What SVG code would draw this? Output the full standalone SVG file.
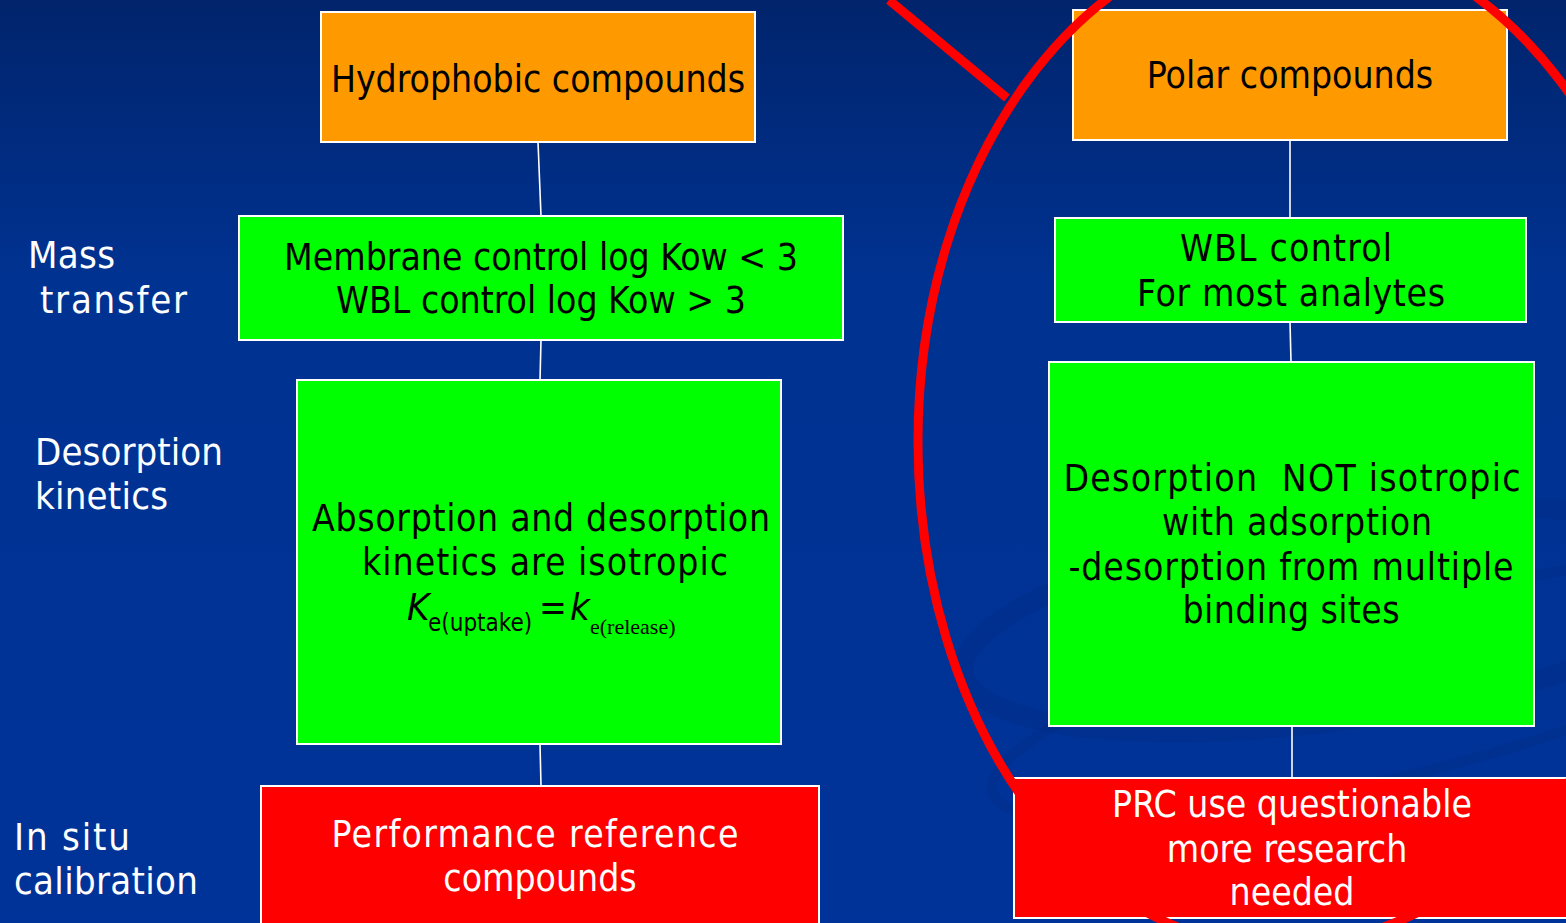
<svg xmlns="http://www.w3.org/2000/svg" width="1566" height="923" viewBox="0 0 1566 923">
<defs>
<linearGradient id="bg" x1="0" y1="0" x2="0" y2="1">
<stop offset="0" stop-color="#01246c"/>
<stop offset="0.3" stop-color="#003291"/>
<stop offset="1" stop-color="#003399"/>
</linearGradient>
</defs>
<style>
.box{stroke:#ffffff;stroke-width:2}
.orange{fill:#ff9900}
.green{fill:#00ff00}
.red{fill:#ff0000}
.t{font-family:"DejaVu Sans Condensed","DejaVu Sans",sans-serif;font-stretch:condensed;font-size:37px;text-anchor:middle}
.blk{fill:#000000}
.wht{fill:#ffffff}
.lbl{font-family:"DejaVu Sans Condensed","DejaVu Sans",sans-serif;font-stretch:condensed;font-size:38px;fill:#ffffff}
.conn{stroke:#ffffff;stroke-width:1.6;fill:none}
</style>
<rect x="0" y="0" width="1566" height="923" fill="url(#bg)"/>
<g id="swoosh" fill="none" stroke="#002a80" stroke-opacity="0.3">
<ellipse cx="1340" cy="620" rx="380" ry="100" transform="rotate(-8 1340 620)" stroke-width="20"/>
<ellipse cx="1400" cy="690" rx="420" ry="85" transform="rotate(-14 1400 690)" stroke-width="10"/>
</g>
<g id="labels">
<text class="lbl" x="28" y="268" textLength="87" lengthAdjust="spacing">Mass</text>
<text class="lbl" x="40" y="313" textLength="147" lengthAdjust="spacing">transfer</text>
<text class="lbl" x="35" y="465" textLength="188" lengthAdjust="spacing">Desorption</text>
<text class="lbl" x="35" y="509" textLength="133" lengthAdjust="spacing">kinetics</text>
<text class="lbl" x="14" y="850" textLength="116" lengthAdjust="spacing">In situ</text>
<text class="lbl" x="14" y="894" textLength="184" lengthAdjust="spacing">calibration</text>
</g>
<g id="connectors">
<line class="conn" x1="538" y1="142" x2="541" y2="216"/>
<line class="conn" x1="541" y1="340" x2="540" y2="380"/>
<line class="conn" x1="540" y1="744" x2="541" y2="786"/>
<line class="conn" x1="1290" y1="140" x2="1290" y2="218"/>
<line class="conn" x1="1290" y1="322" x2="1291" y2="362"/>
<line class="conn" x1="1292" y1="726" x2="1292" y2="778"/>
</g>
<g id="hydrophobic">
<rect class="box orange" x="321" y="12" width="434" height="130"/>
<text class="t blk" x="538" y="92">Hydrophobic compounds</text>
</g>
<g id="membrane">
<rect class="box green" x="239" y="216" width="604" height="124"/>
<text class="t blk" x="541" y="270">Membrane control log Kow &lt; 3</text>
<text class="t blk" x="541" y="313">WBL control log Kow &gt; 3</text>
</g>
<g id="absorption">
<rect class="box green" x="297" y="380" width="484" height="364"/>
<text class="t blk" x="541" y="531" textLength="458" lengthAdjust="spacing">Absorption and desorption</text>
<text class="t blk" x="545" y="575" textLength="366" lengthAdjust="spacing">kinetics are isotropic</text>
<text font-family="DejaVu Sans Condensed, DejaVu Sans, sans-serif" font-stretch="condensed" fill="#000000"><tspan x="407" y="620" font-size="38" font-style="italic">K</tspan><tspan x="428" y="631" font-size="24">e(uptake)</tspan><tspan x="539" y="620" font-size="37">=</tspan><tspan x="570" y="620" font-size="38" font-style="italic">k</tspan><tspan x="590" y="634" font-size="22" font-family="Liberation Serif, serif" font-stretch="normal">e(release)</tspan></text>
</g>
<g id="prc-left">
<rect class="box red" x="261" y="786" width="558" height="145"/>
<text class="t wht" x="535" y="847" textLength="407" lengthAdjust="spacing">Performance reference</text>
<text class="t wht" x="540" y="891">compounds</text>
</g>
<g id="polar">
<rect class="box orange" x="1073" y="10" width="434" height="130"/>
<text class="t blk" x="1290" y="88">Polar compounds</text>
</g>
<g id="wbl">
<rect class="box green" x="1055" y="218" width="471" height="104"/>
<text class="t blk" x="1286" y="261" textLength="212" lengthAdjust="spacing">WBL control</text>
<text class="t blk" x="1291" y="306" textLength="308" lengthAdjust="spacing">For most analytes</text>
</g>
<g id="desorption">
<rect class="box green" x="1049" y="362" width="485" height="364"/>
<text class="t blk" x="1292" y="491" textLength="457" lengthAdjust="spacing" xml:space="preserve">Desorption  NOT isotropic</text>
<text class="t blk" x="1297" y="535" textLength="270" lengthAdjust="spacing">with adsorption</text>
<text class="t blk" x="1291" y="580" textLength="445" lengthAdjust="spacing">-desorption from multiple</text>
<text class="t blk" x="1291" y="623" textLength="217" lengthAdjust="spacing">binding sites</text>
</g>
<g id="prc-right">
<rect class="box red" x="1014" y="778" width="570" height="140"/>
<text class="t wht" x="1292" y="817">PRC use questionable</text>
<text class="t wht" x="1287" y="862">more research</text>
<text class="t wht" x="1292" y="905">needed</text>
</g>
<g id="annotation" fill="none" stroke="#ff0000" stroke-width="9">
<line x1="889" y1="0" x2="1007" y2="98"/>
<path d="M918,441 C918,160.4 1084.5,-67 1290,-67 C1501.5,-67 1673,160.4 1673,441 C1673,719.9 1494.8,946 1275,946 C1077.8,946 918,719.9 918,441 Z"/>
</g>
</svg>
